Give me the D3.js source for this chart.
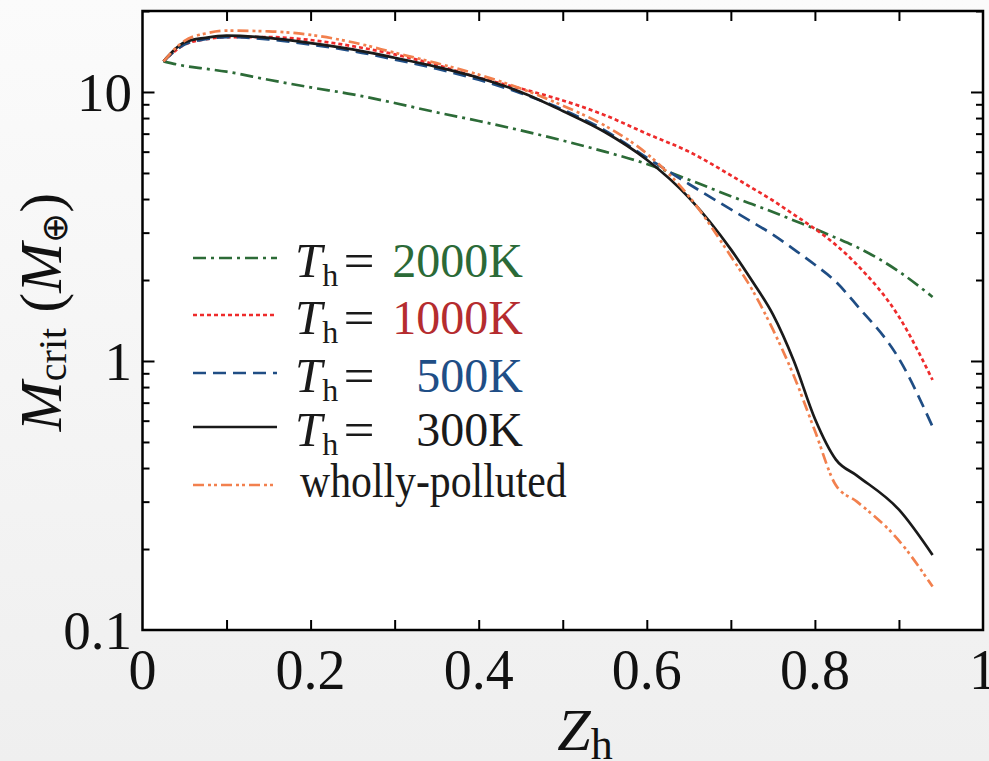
<!DOCTYPE html>
<html><head><meta charset="utf-8">
<script src="https://cdn.jsdelivr.net/npm/d3@7"></script>
<style>body{margin:0;background:#fff;} svg{display:block;}</style>
</head><body>
<svg id="chart" width="989" height="761"></svg>
<script>
// ---- data ----
const zh     = [0.025,0.05,0.075,0.1,0.15,0.2,0.25,0.3,0.35,0.4,0.45,0.5,0.55,0.6,0.65,0.7,0.725,0.75,0.775,0.8,0.825,0.85,0.9,0.94];
const m2000  = [13.0,12.5,12.2,11.9,11.1,10.4,9.8,9.1,8.4,7.8,7.2,6.6,6.0,5.4,4.72,4.1,3.83,3.58,3.33,3.1,2.87,2.65,2.15,1.73];
const m1000  = [13.0,15.0,15.7,16.0,16.0,15.6,14.8,13.8,12.6,11.3,10.3,9.3,8.2,7.0,6.0,4.9,4.4,3.95,3.5,3.1,2.7,2.28,1.46,0.85];
const m500   = [13.0,15.0,15.7,16.0,15.7,15.0,14.2,13.2,12.2,11.1,9.9,8.6,7.2,5.7,4.55,3.66,3.29,2.95,2.6,2.28,1.97,1.61,1.02,0.57];
const m300   = [13.0,15.3,15.9,16.2,15.9,15.2,14.4,13.4,12.4,11.3,10.0,8.5,7.1,5.6,4.05,2.6,1.99,1.49,1.0,0.61,0.43,0.375,0.28,0.19];
const mWholly= [13.0,15.5,16.5,16.9,16.8,16.3,15.3,14.0,12.8,11.6,10.3,8.9,7.5,5.9,4.1,2.45,1.85,1.31,0.88,0.55,0.345,0.30,0.215,0.145];
const xTickLabels = [0,0.2,0.4,0.6,0.8,1];
const yTickLabels = [0.1,1,10];
const legendValues = ["2000K","1000K","500K","300K"];
const legendOther = "wholly-polluted";

const series = [
  {vals:m2000,  color:"#2c6b37", dash:"13,5,3,5", label:legendValues[0], textColor:"#2b6a37"},
  {vals:m1000,  color:"#ee2b2b", dash:"4,3",      label:legendValues[1], textColor:"#b52c2f"},
  {vals:m500,   color:"#1f4d84", dash:"13,7",     label:legendValues[2], textColor:"#1f4e86"},
  {vals:m300,   color:"#1a1a1a", dash:null,       label:legendValues[3], textColor:"#1a1a1a"},
  {vals:mWholly,color:"#f2804e", dash:"11,4,3,3,3,4", label:legendOther, textColor:"#1a1a1a"}
];

const svg = d3.select("#chart");
const FONT = "'Liberation Serif','Times New Roman',serif";

// background gradient
const defs = svg.append("defs");
const grad = defs.append("linearGradient").attr("id","bg").attr("x1",0).attr("y1",0).attr("x2",0).attr("y2",1);
grad.append("stop").attr("offset","0%").attr("stop-color","#fbfbfb");
grad.append("stop").attr("offset","100%").attr("stop-color","#efefef");
svg.append("rect").attr("width",989).attr("height",761).attr("fill","url(#bg)");

const L=142.5, R=983, T=11, B=630;
const x = d3.scaleLinear().domain([0,1]).range([L,R]);
const y = d3.scaleLog().domain([0.1,20]).range([B,T]);

svg.append("rect").attr("x",L).attr("y",T).attr("width",R-L).attr("height",B-T).attr("fill","#fff");

// minor / major ticks
const xTicksAll = d3.range(0,1.0001,0.1);
const yMinor = [];
[0.1,1,10].forEach(d=>{for(let k=2;k<10;k++){const v=+(d*k).toFixed(6); if(v<=20) yMinor.push(v);}});

function tickAxis(axis){ return g=>{ g.call(axis); g.select(".domain").remove(); g.selectAll("text").remove(); g.selectAll("line").attr("stroke","#000").attr("stroke-width",2);} }
svg.append("g").attr("transform",`translate(0,${B})`).call(tickAxis(d3.axisBottom(x).tickValues(xTicksAll.slice(1,-1)).tickSize(-10)));
svg.append("g").attr("transform",`translate(0,${T})`).call(tickAxis(d3.axisTop(x).tickValues(xTicksAll.slice(1,-1)).tickSize(-10)));
svg.append("g").attr("transform",`translate(${L},0)`).call(tickAxis(d3.axisLeft(y).tickValues(yMinor).tickSize(-7)));
svg.append("g").attr("transform",`translate(${L},0)`).call(tickAxis(d3.axisLeft(y).tickValues([1,10]).tickSize(-12)));
svg.append("g").attr("transform",`translate(${R},0)`).call(tickAxis(d3.axisRight(y).tickValues(yMinor).tickSize(-7)));
svg.append("g").attr("transform",`translate(${R},0)`).call(tickAxis(d3.axisRight(y).tickValues([1,10]).tickSize(-12)));

// tick labels
svg.append("g").selectAll("text").data(xTickLabels).join("text")
  .attr("x",d=>x(d)).attr("y",689).attr("text-anchor","middle")
  .attr("font-family",FONT).attr("font-size",56).attr("fill","#111")
  .text(d=>String(d));
svg.append("g").selectAll("text").data(yTickLabels).join("text")
  .attr("x",132).attr("y",d=>y(d)+19).attr("text-anchor","end")
  .attr("font-family",FONT).attr("font-size",55).attr("fill","#111")
  .text(d=>String(d));

// curves
const line = d3.line().x((d,i)=>x(zh[i])).y(d=>y(d)).curve(d3.curveMonotoneX);
defs.append("clipPath").attr("id","clip").append("rect").attr("x",L).attr("y",T).attr("width",R-L).attr("height",B-T);
const lines = svg.append("g").attr("clip-path","url(#clip)");
series.forEach(s=>{
  lines.append("path").attr("d",line(s.vals)).attr("fill","none")
    .attr("stroke",s.color).attr("stroke-width",2.7)
    .attr("stroke-dasharray",s.dash).attr("stroke-linejoin","round");
});

// frame
svg.append("rect").attr("x",L).attr("y",T).attr("width",R-L).attr("height",B-T)
  .attr("fill","none").attr("stroke","#000").attr("stroke-width",2.5);

// legend
const rowsY=[258,315,373,427,485];
const lg = svg.append("g");
series.forEach((s,i)=>{
  lg.append("line").attr("x1",193).attr("x2",277).attr("y1",rowsY[i]).attr("y2",rowsY[i])
    .attr("stroke",s.color).attr("stroke-width",2.7).attr("stroke-dasharray",s.dash);
  if(i<4){
    const base=rowsY[i]+19;
    const t=lg.append("text").attr("x",295).attr("y",base).attr("font-family",FONT).attr("font-size",49).attr("fill","#1a1a1a");
    t.append("tspan").attr("font-style","italic").text("T");
    t.append("tspan").attr("font-size",32).attr("dy",9).text("h");
    lg.append("text").attr("transform",`translate(359,${base}) scale(1.15,1)`).attr("text-anchor","middle").attr("font-family",FONT).attr("font-size",48).attr("fill","#1a1a1a").text("=");
    lg.append("text").attr("x",523).attr("y",base).attr("text-anchor","end").attr("font-family",FONT).attr("font-size",48).attr("fill",s.textColor).text(s.label);
  } else {
    lg.append("text").attr("transform",`translate(300,${rowsY[i]+12}) scale(0.87,1)`)
      .attr("font-family",FONT).attr("font-size",48).attr("fill","#1a1a1a").text(s.label);
  }
});

// axis titles
const xl = svg.append("text").attr("x",585).attr("y",750).attr("text-anchor","middle")
  .attr("font-family",FONT).attr("font-size",60).attr("fill","#111");
xl.append("tspan").attr("font-style","italic").text("Z");
xl.append("tspan").attr("font-size",44).attr("dy",9).text("h");

const yl = svg.append("text").attr("transform","translate(61,312) rotate(-90)").attr("text-anchor","middle")
  .attr("font-family",FONT).attr("font-size",60).attr("fill","#111");
yl.append("tspan").attr("font-style","italic").text("M");
yl.append("tspan").attr("font-size",40).attr("dy",5).text("crit");
yl.append("tspan").attr("dy",-5).text(" (");
yl.append("tspan").attr("font-style","italic").text("M");
yl.append("tspan").attr("font-size",36).attr("dy",6).text("⊕");
yl.append("tspan").attr("dy",-6).text(")");
</script>
</body></html>
